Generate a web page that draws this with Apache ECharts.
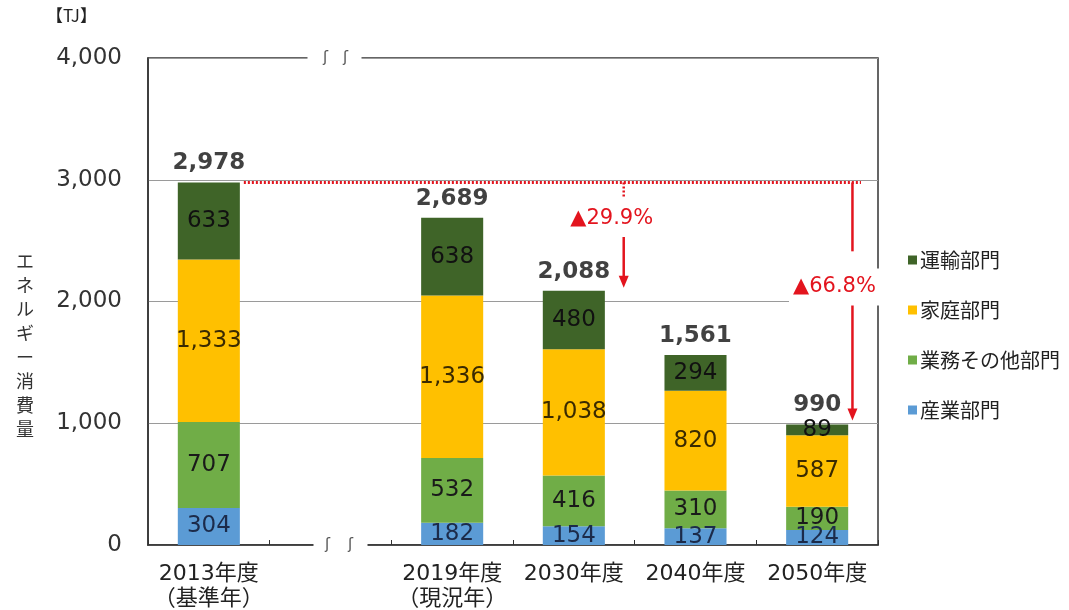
<!DOCTYPE html>
<html>
<head>
<meta charset="utf-8">
<script src="https://cdn.jsdelivr.net/npm/echarts@6/dist/echarts.min.js"></script>
<style>
  html, body { margin: 0; padding: 0; background: #fff; }
  #chart { width: 1069px; height: 610px; }
</style>
</head>
<body>
<div id="chart"></div>
<script>
// 年度（2つ目は省略区間）
const categories = ['2013年度\n（基準年）', '', '2019年度\n（現況年）', '2030年度', '2040年度', '2050年度']
const sangyo = [304, null, 182, 154, 137, 124]
const gyomu = [707, null, 532, 416, 310, 190]
const katei = [1333, null, 1336, 1038, 820, 587]
const unyu = [633, null, 638, 480, 294, 89]
const totals = [2978, null, 2689, 2088, 1561, 990]
const yTicks = [0, 1000, 2000, 3000, 4000]

const FONT = '"DejaVu Sans", "Noto Sans CJK JP", sans-serif'
const JP = '"Noto Sans CJK JP", sans-serif'
const RED = '#e3141e'
const BAR_W = 0.51

const chart = echarts.init(document.getElementById('chart'))

function segLabel(color) {
  return {
    show: true,
    position: 'inside',
    fontFamily: FONT,
    fontSize: 23,
    color: color || '#1a1a1a',
    formatter: p => p.value == null ? '' : p.value.toLocaleString('en-US')
  }
}

function barSeries(name, data, color, labelColor) {
  return {
    name,
    type: 'bar',
    stack: 'total',
    barWidth: (BAR_W * 100) + '%',
    data,
    itemStyle: { color },
    label: segLabel(labelColor)
  }
}

const option = {
  animation: false,
  textStyle: { fontFamily: FONT },
  grid: {
    left: 148, right: 191, top: 58, bottom: 65,
    outerBoundsMode: 'none',
    show: true, borderColor: '#333', borderWidth: 1.5
  },
  legend: {
    data: ['運輸部門', '家庭部門', '業務その他部門', '産業部門'],
    orient: 'vertical',
    left: 903,
    top: 245,
    itemWidth: 9,
    itemHeight: 9,
    itemGap: 30,
    icon: 'rect',
    textStyle: { fontFamily: JP, fontSize: 20, color: '#222', padding: [0, 0, 0, -2] }
  },
  xAxis: {
    type: 'category',
    data: categories,
    axisLine: { lineStyle: { color: '#333', width: 1.5 } },
    axisTick: { show: true, inside: true, length: 5, lineStyle: { color: '#333' } },
    axisLabel: { fontFamily: FONT, fontSize: 22, color: '#222', margin: 17, lineHeight: 25, interval: 0 }
  },
  yAxis: {
    type: 'value',
    min: yTicks[0],
    max: yTicks[yTicks.length - 1],
    interval: 1000,
    axisLine: { show: true, lineStyle: { color: '#333', width: 1.5 } },
    axisTick: { show: false },
    splitLine: { lineStyle: { color: '#9a9a9a', width: 1 } },
    axisLabel: {
      fontFamily: FONT, fontSize: 23, color: '#333', margin: 26,
      formatter: v => v.toLocaleString('en-US')
    }
  },
  series: [
    barSeries('産業部門', sangyo, '#5b9bd5', '#1c2b4a'),
    barSeries('業務その他部門', gyomu, '#70ad47'),
    barSeries('家庭部門', katei, '#ffc000', '#3a2a00'),
    barSeries('運輸部門', unyu, '#3f6428', '#111'),
    {
      name: '合計',
      type: 'scatter',
      data: totals.map((v, i) => v == null ? null : [i, v]),
      symbolSize: 1,
      itemStyle: { color: 'rgba(0,0,0,0)' },
      label: {
        show: true,
        position: 'top',
        distance: 7,
        fontFamily: FONT,
        fontSize: 23,
        fontWeight: 'bold',
        color: '#111',
        formatter: p => p.value[1].toLocaleString('en-US')
      },
      z: 5
    }
  ]
}

chart.setOption(option)

// 省略線・矢印などの注記
function px(x, y) { return chart.convertToPixel({ gridIndex: 0 }, [x, y]) }
function xAt(idx) { return px(Math.floor(idx), 0)[0] + (idx - Math.floor(idx)) * band }

const band = px(1, 0)[0] - px(0, 0)[0]
const gapCx = px(1, 0)[0]
const y0 = px(0, 0)[1]
const yTop = px(0, 4000)[1]
const yBase = px(0, totals[0])[1]

function breakMark(cx, cy, x1, x2) {
  const mark = x => ({
    type: 'text', x, y: cy,
    style: { text: 'ʃ', fontSize: 15, fontFamily: 'DejaVu Sans', fill: '#555', align: 'center', verticalAlign: 'middle' },
    z: 51
  })
  return [
    { type: 'rect', shape: { x: cx - 27, y: cy - 4, width: 54, height: 8 }, style: { fill: '#fff' }, z: 50 },
    mark(x1), mark(x2)
  ]
}

function arrow(x, yFrom, yTo) {
  return [
    { type: 'line', shape: { x1: x, y1: yFrom, x2: x, y2: yTo - 10 }, style: { stroke: RED, lineWidth: 2.5 }, z: 60 },
    { type: 'polygon', shape: { points: [[x - 5, yTo - 12], [x + 5, yTo - 12], [x, yTo]] }, style: { fill: RED }, z: 60 }
  ]
}

const barRight = px(0, 0)[0] + band * BAR_W / 2
const a1x = xAt(3.41)
const a2x = xAt(5.29)
const endX = xAt(5.36)

const graphics = [
  ...breakMark(gapCx + 4, yTop, gapCx - 5, gapCx + 15),
  ...breakMark(gapCx + 10, y0, gapCx - 3, gapCx + 20),
  // 基準年ラインの点線
  { type: 'line', shape: { x1: barRight + 4, y1: yBase, x2: endX, y2: yBase }, style: { stroke: RED, lineWidth: 3, lineDash: [2, 2] }, z: 60 },
  // ▲29.9%
  { type: 'line', shape: { x1: a1x, y1: yBase, x2: a1x, y2: px(0, 2860)[1] }, style: { stroke: RED, lineWidth: 2.5, lineDash: [2, 2] }, z: 60 },
  ...arrow(a1x, px(0, 2530)[1], px(0, totals[3])[1] - 3),
  { type: 'text', x: a1x - 12, y: px(0, 2678)[1], style: { text: '▲29.9%', fontFamily: FONT, fontSize: 21, fill: RED, align: 'center', verticalAlign: 'middle' }, z: 61 },
  // ▲66.8%
  ...arrow(a2x, yBase, px(0, 2330)[1]).slice(0, 1),
  ...arrow(a2x, px(0, 1990)[1], px(0, totals[5])[1] - 4),
  { type: 'text', x: a2x - 18, y: px(0, 2119)[1], style: { text: '▲66.8%', fontFamily: FONT, fontSize: 21, fill: RED, align: 'center', verticalAlign: 'middle', backgroundColor: '#fff', padding: [8, 4] }, z: 61 },
  // 単位・軸タイトル
  { type: 'text', left: 46, top: 7, style: { text: '【TJ】', fontFamily: JP, fontSize: 17, fill: '#222' } },
  { type: 'text', x: 25, y: 345, style: { text: 'エネルギー消費量'.split('').join('\n'), fontFamily: JP, fontSize: 18, lineHeight: 24, fill: '#333', align: 'center', verticalAlign: 'middle' } }
]

chart.setOption({ graphic: graphics })
</script>
</body>
</html>
